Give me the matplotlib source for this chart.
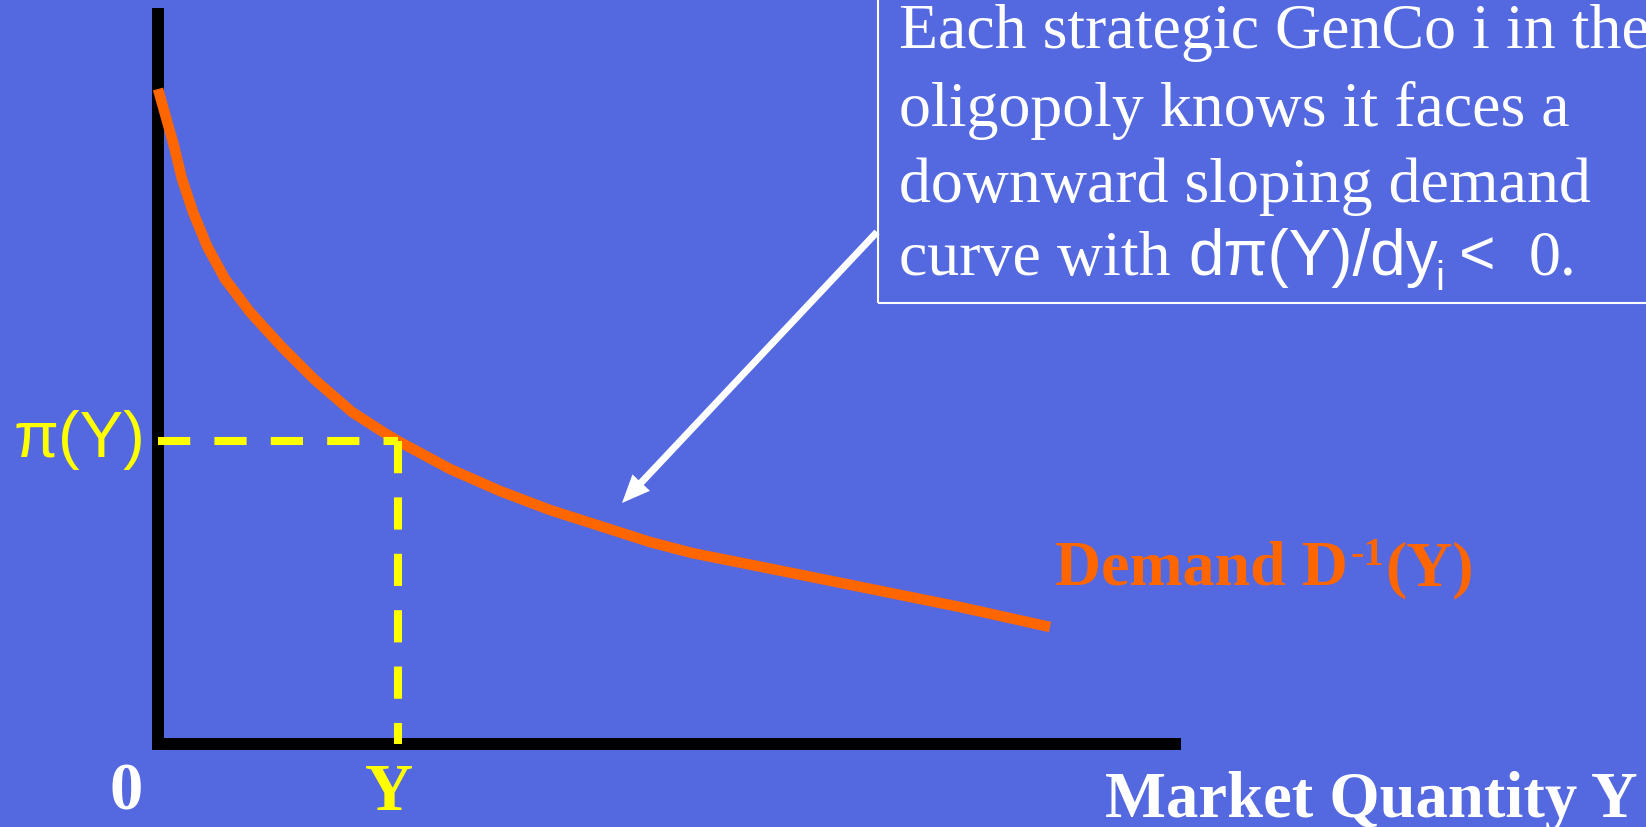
import matplotlib
matplotlib.use("Agg")
import matplotlib.pyplot as plt
from matplotlib.patches import Rectangle, FancyArrow

# Inverse demand curve: market quantity vs. price
quantity = [0.00, 0.16, 0.24, 0.35, 0.49, 0.67, 0.92, 1.23, 1.56,
            1.94, 2.25, 2.40, 2.92, 3.42, 3.92, 4.42, 4.92, 5.34, 6.24,
            7.13, 8.02, 8.92]
price = [6.55, 5.98, 5.65, 5.32, 4.98, 4.65, 4.32, 3.98, 3.65,
         3.32, 3.12, 3.03, 2.75, 2.53, 2.34, 2.18, 2.02, 1.91, 1.73,
         1.55, 1.37, 1.17]

# Market outcome marked by the dashed guides
y_market = 2.40
pi_market = 3.03

box_lines = [
    "Each strategic GenCo i in the",
    "oligopoly knows it faces a",
    "downward sloping demand",
    "curve with",
]

bg = "#5468E0"
orange = "#FF6600"
yellow = "#FFFF00"
serif = "Liberation Serif"
sans = "Liberation Sans"

fig = plt.figure(figsize=(16.46, 8.28), dpi=100, facecolor=bg)
ax = fig.add_axes([0, 0, 1, 1])
ax.set_xlim(-1.58, 14.88)
ax.set_ylim(-0.83, 7.45)
ax.axis("off")

# Axes drawn as thick black lines
ax.plot([0, 0], [-0.06, 7.36], color="black", lw=8.6, solid_capstyle="butt", zorder=1)
ax.plot([-0.06, 10.23], [0, 0], color="black", lw=8.6, solid_capstyle="butt", zorder=1)

# Demand curve
ax.plot(quantity, price, color=orange, lw=7.6, solid_capstyle="butt",
        solid_joinstyle="round", zorder=2)

# Dashed guides to the axes
ax.plot([0, y_market], [pi_market, pi_market], color=yellow, lw=5.8,
        linestyle=(0, (4, 3)), dash_capstyle="butt", zorder=3)
ax.plot([y_market, y_market], [pi_market, 0], color=yellow, lw=5.8,
        linestyle=(0, (4, 3)), dash_capstyle="butt", zorder=3)

# Axis labels
ax.text(-0.13, 2.88, "π(Y)", family=sans, size=47, color=yellow,
        ha="right", va="baseline")
ax.text(-0.32, -0.65, "0", family=serif, weight="bold", size=48, color="white",
        ha="center", va="baseline")
ax.text(2.31, -0.65, "Y", family=serif, weight="bold", size=48, color=yellow,
        ha="center", va="baseline")
ax.text(9.47, -0.72, "Market Quantity Y", family=serif, weight="bold", size=46.5,
        color="white", ha="left", va="baseline")

# Curve label with superscript
ax.text(8.97, 1.60, "Demand D", family=serif, weight="bold", size=46,
        color=orange, ha="left", va="baseline")
ax.text(11.92, 1.80, "-1", family=serif, weight="bold", size=29,
        color=orange, ha="left", va="baseline")
ax.text(12.27, 1.60, "(Y)", family=serif, weight="bold", size=46,
        color=orange, ha="left", va="baseline")

# Annotation box
ax.add_patch(Rectangle((7.20, 4.41), 10, 10, facecolor="none",
                       edgecolor="white", lw=1.5, zorder=4))
baselines = [6.97, 6.19, 5.43, 4.70]
for line, yb in zip(box_lines, baselines):
    ax.text(7.41, yb, line, family=serif, size=46, color="white",
            ha="left", va="baseline", zorder=5)
ax.text(10.30, 4.70, "dπ(Y)/dy", family=sans, size=46, color="white",
        ha="left", va="baseline", zorder=5)
ax.text(12.77, 4.55, "i", family=sans, size=29, color="white",
        ha="left", va="baseline", zorder=5)
ax.text(13.01, 4.70, "<", family=sans, size=45, color="white",
        ha="left", va="baseline", zorder=5)
ax.text(13.71, 4.70, "0.", family=serif, size=46, color="white",
        ha="left", va="baseline", zorder=5)

# Arrow from the box to the curve
ax.add_patch(FancyArrow(7.19, 5.12, 4.64 - 7.19, 2.41 - 5.12, width=0.07,
                        head_width=0.24, head_length=0.28,
                        length_includes_head=True, color="white", lw=0,
                        zorder=4))

fig.savefig("out.png", dpi=100, facecolor=bg)
